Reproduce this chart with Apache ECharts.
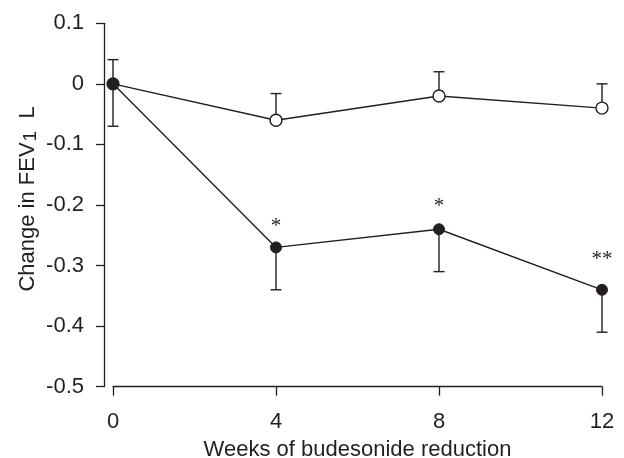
<!DOCTYPE html>
<html>
<head>
<meta charset="utf-8">
<script src="https://cdn.jsdelivr.net/npm/echarts@6/dist/echarts.min.js"></script>
<style>
  html, body { margin: 0; padding: 0; background: #fff; }
  #chart { width: 624px; height: 458px; }
</style>
</head>
<body>
<div id="chart"></div>
<script>
// Weeks since start of budesonide reduction
const weeks = [0, 4, 8, 12];
// Mean change in FEV1 (L), control group (open circles) and reduction group (filled)
const controlMean = [0, -0.06, -0.02, -0.04];
const controlUpper = [0.04, -0.016, 0.02, 0.0];
const reductionMean = [0, -0.27, -0.24, -0.34];
const reductionLower = [-0.07, -0.34, -0.31, -0.41];
// Significance marks above the reduction group
const significance = ['', '*', '*', '**'];
const yTicks = [-0.5, -0.4, -0.3, -0.2, -0.1, 0, 0.1];

const ink = '#231f20';
const font = '"Liberation Sans Narrow", "Arial Narrow", "Liberation Sans", Arial, sans-serif';
const markFont = '"Liberation Serif", "Times New Roman", serif';
// Gap between each reduction-group point and its significance mark
const markGap = [3, 4, 6, 14];

function errorBarSeries(means, ends, z) {
  return {
    type: 'custom',
    z: z,
    silent: true,
    data: weeks.map((w, i) => [w, means[i], ends[i]]),
    renderItem: function (params, api) {
      const x = api.value(0);
      const p0 = api.coord([x, api.value(1)]);
      const p1 = api.coord([x, api.value(2)]);
      const cap = 5.5;
      const style = { stroke: ink, lineWidth: 1.4, fill: null };
      return {
        type: 'group',
        children: [
          { type: 'line', shape: { x1: p0[0], y1: p0[1], x2: p1[0], y2: p1[1] }, style: style },
          { type: 'line', shape: { x1: p1[0] - cap, y1: p1[1], x2: p1[0] + cap, y2: p1[1] }, style: style }
        ]
      };
    }
  };
}

const chart = echarts.init(document.getElementById('chart'), null, { renderer: 'canvas' });
chart.setOption({
  backgroundColor: '#fff',
  animation: false,
  grid: { left: 113, right: 22, top: 23.3, bottom: 71.3, containLabel: false, outerBoundsMode: 'none' },
  xAxis: {
    type: 'value',
    min: 0,
    max: 12,
    interval: 4,
    name: 'Weeks of budesonide reduction',
    nameLocation: 'middle',
    nameGap: 52,
    nameMoveOverlap: false,
    nameTextStyle: { fontFamily: font, fontSize: 22, color: ink },
    axisLine: { show: true, onZero: false, lineStyle: { color: ink, width: 1.3 } },
    axisTick: { show: true, inside: false, length: 9, lineStyle: { color: ink, width: 1.3 } },
    axisLabel: { margin: 24, fontFamily: font, fontSize: 22, color: ink, formatter: v => String(v) },
    splitLine: { show: false }
  },
  yAxis: {
    type: 'value',
    min: yTicks[0],
    max: yTicks[yTicks.length - 1],
    interval: 0.1,
    offset: 9,
    name: '{t|Change in FEV}{s|1}{t|  L}',
    nameLocation: 'middle',
    nameGap: 64,
    nameMoveOverlap: false,
    nameRotate: 90,
    nameTextStyle: {
      padding: [0, 0, 0, 12],
      rich: {
        t: { fontFamily: font, fontSize: 22, color: ink },
        s: { fontFamily: font, fontSize: 19, color: ink, verticalAlign: 'bottom', padding: [6, 0, 0, 1] }
      }
    },
    axisLine: { show: true, onZero: false, lineStyle: { color: ink, width: 1.3 } },
    axisTick: { show: true, inside: false, length: 8, lineStyle: { color: ink, width: 1.3 } },
    axisLabel: {
      margin: 20,
      fontFamily: font,
      fontSize: 22,
      color: ink,
      formatter: v => {
        const r = Math.round(v * 10) / 10;
        return r === 0 ? '0' : r.toFixed(1);
      }
    },
    splitLine: { show: false }
  },
  series: [
    errorBarSeries(controlMean, controlUpper, 1),
    errorBarSeries(reductionMean, reductionLower, 1),
    {
      type: 'line',
      z: 3,
      data: weeks.map((w, i) => [w, controlMean[i]]),
      symbol: 'circle',
      symbolSize: 12,
      lineStyle: { color: ink, width: 1.4 },
      itemStyle: { color: '#fff', borderColor: ink, borderWidth: 1.4 }
    },
    {
      type: 'line',
      z: 4,
      data: weeks.map((w, i) => ({
        value: [w, reductionMean[i]],
        label: { distance: markGap[i] }
      })),
      symbol: 'circle',
      symbolSize: 11,
      lineStyle: { color: ink, width: 1.4 },
      itemStyle: { color: ink, borderColor: ink, borderWidth: 1 },
      label: {
        show: true,
        position: 'top',
        fontFamily: markFont,
        fontSize: 21,
        color: ink,
        formatter: p => significance[p.dataIndex]
      }
    }
  ]
});
</script>
</body>
</html>
